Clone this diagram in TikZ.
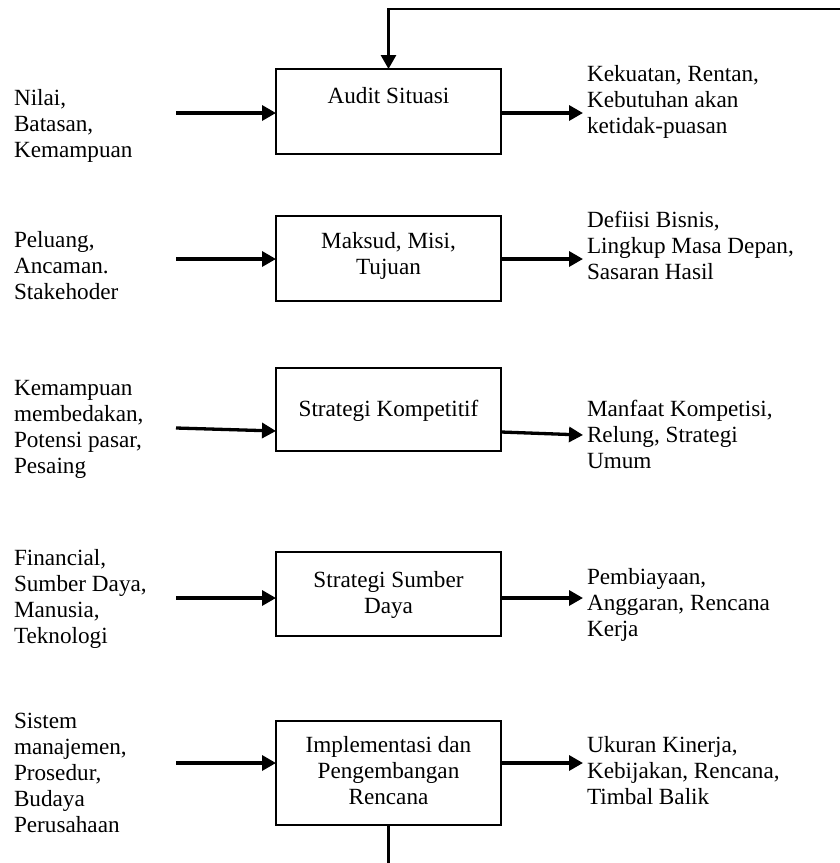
\documentclass[tikz,border=0pt]{standalone}
\usepackage{fontspec}
\setmainfont{Liberation Serif}
\usetikzlibrary{arrows.meta}
\newcommand{\mylines}[2][l]{\begin{tabular}[t]{@{}#1@{}}#2\end{tabular}}
\begin{document}
\begin{tikzpicture}[x=1pt,y=-1pt,
  txt/.style={font=\fontsize{23.2}{26}\selectfont, inner sep=0pt, outer sep=0pt},
  box/.style={draw, line width=2.2pt, minimum width=225pt, inner sep=0pt, outer sep=0pt},
  arr/.style={line width=3.3pt, -{Triangle[length=14pt,width=15pt]}},
  fb/.style={line width=2.8pt},
  fbarr/.style={line width=2.8pt, -{Triangle[length=14pt,width=15pt]}}]
\useasboundingbox (0,0) rectangle (840,863);

% boxes
\node[box, minimum height=85pt] (b1) at (388.5,111.5) {};
\node[box, minimum height=85pt] (b2) at (388.5,258.5) {};
\node[box, minimum height=83pt] (b3) at (388.5,409.5) {};
\node[box, minimum height=84pt] (b4) at (388.5,594) {};
\node[box, minimum height=104pt] (b5) at (388.5,773) {};

% box texts
\node[txt, anchor=base] (t1) at (388.5,103) {Audit Situasi};
\node[txt, anchor=base] (t2) at (388.5,248) {\mylines[c]{Maksud, Misi,\\Tujuan}};
\node[txt, anchor=base] (t3) at (388.5,416) {Strategi Kompetitif};
\node[txt, anchor=base] (t4) at (388.5,587) {\mylines[c]{Strategi Sumber\\Daya}};
\node[txt, anchor=base] (t5) at (388.5,752) {\mylines[c]{Implementasi dan\\Pengembangan\\Rencana}};

% input texts
\node[txt, anchor=base west] (l1) at (14,105) {\mylines{Nilai,\\Batasan,\\Kemampuan}};
\node[txt, anchor=base west] (l2) at (14,247) {\mylines{Peluang,\\Ancaman.\\Stakehoder}};
\node[txt, anchor=base west] (l3) at (14,395) {\mylines{Kemampuan\\membedakan,\\Potensi pasar,\\Pesaing}};
\node[txt, anchor=base west] (l4) at (14,565) {\mylines{Financial,\\Sumber Daya,\\Manusia,\\Teknologi}};
\node[txt, anchor=base west] (l5) at (14,728) {\mylines{Sistem\\manajemen,\\Prosedur,\\Budaya\\Perusahaan}};

% output texts
\node[txt, anchor=base west] (r1) at (587,81) {\mylines{Kekuatan, Rentan,\\Kebutuhan akan\\ketidak-puasan}};
\node[txt, anchor=base west] (r2) at (587,227) {\mylines{Defiisi Bisnis,\\Lingkup Masa Depan,\\Sasaran Hasil}};
\node[txt, anchor=base west] (r3) at (587,416) {\mylines{Manfaat Kompetisi,\\Relung, Strategi\\Umum}};
\node[txt, anchor=base west] (r4) at (587,584) {\mylines{Pembiayaan,\\Anggaran, Rencana\\Kerja}};
\node[txt, anchor=base west] (r5) at (587,752) {\mylines{Ukuran Kinerja,\\Kebijakan, Rencana,\\Timbal Balik}};

% input arrows
\coordinate (i1) at (176,113);
\coordinate (i2) at (176,259);
\coordinate (i3) at (176,428);
\coordinate (i4) at (176,598);
\coordinate (i5) at (176,763);
\coordinate (e3) at (b3.west |- 0,431);
\draw[arr] (i1) -- (i1 -| b1.west);
\draw[arr] (i2) -- (i2 -| b2.west);
\draw[arr] (i3) -- (e3);
\draw[arr] (i4) -- (i4 -| b4.west);
\draw[arr] (i5) -- (i5 -| b5.west);

% output arrows
\coordinate (o1) at (583,113);
\coordinate (o2) at (583,259);
\coordinate (o3) at (583,435);
\coordinate (o4) at (583,598);
\coordinate (o5) at (583,763);
\coordinate (s3) at (b3.east |- 0,432);
\draw[arr] (o1 -| b1.east) -- (o1);
\draw[arr] (o2 -| b2.east) -- (o2);
\draw[arr] (s3) -- (o3);
\draw[arr] (o4 -| b4.east) -- (o4);
\draw[arr] (o5 -| b5.east) -- (o5);

% feedback
\coordinate (fbright) at (840,9);
\coordinate (fbbot) at (388.5,863);
\draw[fbarr] (fbright) -- (b1.north |- fbright) -- (b1.north);
\draw[fb] (b5.south) -- (fbbot);
\end{tikzpicture}
\end{document}
